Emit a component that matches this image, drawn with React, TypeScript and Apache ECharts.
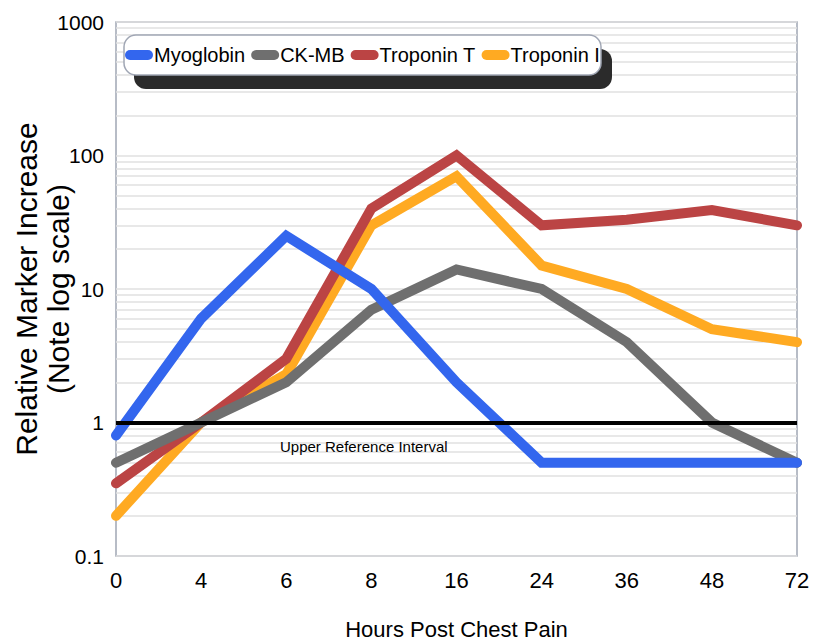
import React, { useEffect, useRef } from "react";
import * as echarts from "echarts";

const hours = ["0", "4", "6", "8", "16", "24", "36", "48", "72"];
const myoglobin = [0.8, 6, 25, 10, 2, 0.5, 0.5, 0.5, 0.5];
const ckmb = [0.5, 1, 2, 7, 14, 10, 4, 1, 0.5];
const troponinT = [0.35, 1, 3, 40, 100, 30, 33, 39, 30];
const troponinI = [0.2, 1, 2.3, 30, 70, 15, 10, 5, 4];
const referenceValue = 1;
const decades = [0.1, 1, 10, 100];
const minorSteps = [2, 3, 4, 5, 6, 7, 8, 9];

const FONT = "'Liberation Sans', Arial, Helvetica, sans-serif";

const pill = "path://M5,0 L23,0 A5,5 0 0 1 23,10 L5,10 A5,5 0 0 1 5,0 Z";

export default function App() {
  const ref = useRef<HTMLDivElement>(null);
  useEffect(() => {
    if (!ref.current) return;
    const chart = echarts.init(ref.current, null, { renderer: "svg" });
    const minorLines: any[] = [];
    decades.forEach((d) => minorSteps.forEach((s) => minorLines.push({ yAxis: +(d * s).toPrecision(3) })));
    const lineSeries = (name: string, data: number[], color: string, z: number) => ({
      name,
      type: "line",
      data,
      z,
      symbol: "none",
      showSymbol: false,
      lineStyle: { color, width: 10, cap: "round", join: "miter" },
      itemStyle: { color },
    });
    chart.setOption({
      animation: false,
      backgroundColor: "#ffffff",
      grid: {
        left: 116,
        right: 16,
        top: 22,
        bottom: 87,
        outerBoundsMode: "none",
        containLabel: false,
        show: true,
        borderColor: "#a0a6b4",
        borderWidth: 1.5,
        backgroundColor: "transparent",
      },
      graphic: [
        { type: "rect", z: 50, shape: { x: 134, y: 49, width: 478, height: 40, r: 12 }, style: { fill: "#2b2b2b" } },
        { type: "rect", z: 51, shape: { x: 124, y: 35, width: 477, height: 40, r: 12 }, style: { fill: "#ffffff", stroke: "#a0a6b4", lineWidth: 1.5 } },
      ],
      legend: {
        data: ["Myoglobin", "CK-MB", "Troponin T", "Troponin I"],
        left: 125,
        top: 45,
        padding: 0,
        z: 60,
        itemWidth: 28,
        itemHeight: 10,
        itemGap: 6,
        icon: pill,
        textStyle: { fontFamily: FONT, fontSize: 20, color: "#000", padding: [0, 0, 0, -4] },
      },
      xAxis: {
        type: "category",
        data: hours,
        boundaryGap: false,
        axisLine: { show: false },
        axisTick: { show: false },
        splitLine: { show: false },
        axisLabel: { fontFamily: FONT, fontSize: 22, color: "#000", margin: 13 },
        name: "Hours Post Chest Pain",
        nameLocation: "middle",
        nameGap: 62,
        nameMoveOverlap: false,
        nameTextStyle: { fontFamily: FONT, fontSize: 22, color: "#000" },
      },
      yAxis: {
        type: "log",
        logBase: 10,
        min: 0.1,
        max: 1000,
        axisLine: { show: false },
        axisTick: { show: false },
        splitLine: { show: true, lineStyle: { color: "#e0e0e0", width: 1.5 } },
        axisLabel: {
          fontFamily: FONT,
          fontSize: 21,
          color: "#000",
          margin: 12,
          formatter: (v: number) => String(+v.toPrecision(3)),
        },
        name: "Relative Marker Increase\n(Note log scale)",
        nameLocation: "middle",
        nameRotate: 90,
        nameGap: 42,
        nameMoveOverlap: false,
        nameTextStyle: { fontFamily: FONT, fontSize: 30, color: "#000", lineHeight: 32 },
      },
      series: [
        {
          name: "grid",
          type: "line",
          data: [],
          z: 1,
          silent: true,
          markLine: {
            z: 1,
            silent: true,
            symbol: "none",
            label: { show: false },
            lineStyle: { color: "#e0e0e0", width: 1.5, type: "solid" },
            data: minorLines,
          },
        },
        lineSeries("Troponin I", troponinI, "#ffaa22", 3),
        lineSeries("Troponin T", troponinT, "#bb4444", 4),
        lineSeries("CK-MB", ckmb, "#6f6f6f", 5),
        lineSeries("Myoglobin", myoglobin, "#3366ee", 6),
        {
          name: "ref",
          type: "line",
          data: [],
          z: 8,
          silent: true,
          markLine: {
            z: 10,
            silent: true,
            symbol: "none",
            lineStyle: { color: "#000", width: 4, type: "solid" },
            label: {
              show: true,
              formatter: "Upper Reference Interval",
              position: "insideStartBottom",
              distance: [164, 16],
              fontFamily: FONT,
              fontSize: 15,
              color: "#000",
            },
            data: [{ yAxis: referenceValue }],
          },
        },
      ],
    });
    return () => chart.dispose();
  }, []);
  return <div ref={ref} style={{ width: 813, height: 643, position: "absolute", left: 0, top: 0 }} />;
}
